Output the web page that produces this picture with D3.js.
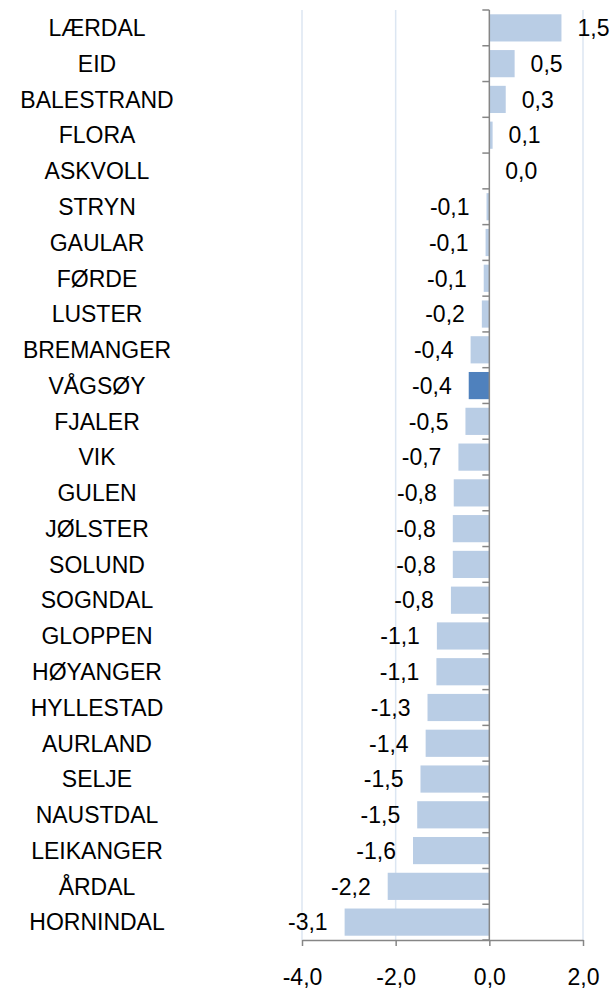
<!DOCTYPE html>
<html>
<head>
<meta charset="utf-8">
<script src="https://cdn.jsdelivr.net/npm/d3@7"></script>
<style>
  body { margin: 0; background: #fff; }
  text { font-family: "Liberation Sans", Arial, sans-serif; fill: #000; }
</style>
</head>
<body>
<svg id="chart"></svg>
<script>
const width = 616, height = 990;

// kommunar, sortert etter verdi
const kommunar = ["LÆRDAL", "EID", "BALESTRAND", "FLORA", "ASKVOLL", "STRYN", "GAULAR",
    "FØRDE", "LUSTER", "BREMANGER", "VÅGSØY", "FJALER", "VIK", "GULEN", "JØLSTER",
    "SOLUND", "SOGNDAL", "GLOPPEN", "HØYANGER", "HYLLESTAD", "AURLAND", "SELJE",
    "NAUSTDAL", "LEIKANGER", "ÅRDAL", "HORNINDAL"];
const verdiar = [1.54, 0.54, 0.35, 0.07, 0.0, -0.06, -0.08, -0.12, -0.16, -0.40, -0.44,
    -0.51, -0.66, -0.76, -0.78, -0.78, -0.82, -1.12, -1.13, -1.32, -1.36, -1.47,
    -1.54, -1.63, -2.17, -3.09];
const utheva = "VÅGSØY";
const xTicks = [-4, -2, 0, 2];

const data = kommunar.map((k, i) => ({ name: k, value: verdiar[i] }));

// norsk talformat: komma som desimalteikn, vanleg bindestrek som minus
const nb = d3.formatLocale({ decimal: ",", thousands: " ", grouping: [3], currency: ["", " kr"], minus: "-" });
const fmt = nb.format(".1f");

const margin = { top: 10, right: 33, bottom: 50, left: 302 };

const x = d3.scaleLinear()
    .domain([-4, 2])
    .range([margin.left, width - margin.right]);

const y = d3.scaleBand()
    .domain(kommunar)
    .range([margin.top, height - margin.bottom])
    .paddingInner(0.24)
    .paddingOuter(0.12);

const svg = d3.select("#chart")
    .attr("width", width)
    .attr("height", height);

const y0 = margin.top, y1 = height - margin.bottom;

//gridlines
svg.append("g")
    .selectAll("line")
    .data(xTicks.filter(d => d !== 0))
    .join("line")
    .attr("x1", d => x(d)).attr("x2", d => x(d))
    .attr("y1", y0).attr("y2", y1)
    .attr("stroke", "#dce6f2")
    .attr("stroke-width", 1.5);

//bars
svg.append("g")
    .selectAll("rect")
    .data(data)
    .join("rect")
    .attr("x", d => x(Math.min(0, d.value)))
    .attr("width", d => Math.abs(x(d.value) - x(0)))
    .attr("y", d => y(d.name))
    .attr("height", y.bandwidth())
    .attr("fill", d => d.name === utheva ? "#4f81bd" : "#b9cde5");

//bottom axis
const xAxis = svg.append("g")
    .attr("transform", `translate(0,${y1})`)
    .call(d3.axisBottom(x).tickValues(xTicks).tickFormat(fmt).tickSizeInner(6).tickSizeOuter(0).tickPadding(23));
xAxis.select(".domain").attr("stroke", "#868686").attr("stroke-width", 1.5);
xAxis.selectAll(".tick line").attr("stroke", "#868686").attr("stroke-width", 1.5);
xAxis.selectAll(".tick text")
    .style("font-size", "23px")
    .style("font-family", "'Liberation Sans', Arial, sans-serif")
    .attr("fill", "#000");

//zero axis with category ticks
const step = y.step();
svg.append("g")
    .selectAll("line")
    .data(d3.range(kommunar.length + 1))
    .join("line")
    .attr("x1", x(0) - 7).attr("x2", x(0))
    .attr("y1", i => y0 + i * step).attr("y2", i => y0 + i * step)
    .attr("stroke", "#868686")
    .attr("stroke-width", 1.5);

svg.append("line")
    .attr("x1", x(0)).attr("x2", x(0))
    .attr("y1", y0).attr("y2", y1)
    .attr("stroke", "#868686")
    .attr("stroke-width", 1.5);

//category labels
svg.append("g")
    .selectAll("text")
    .data(data)
    .join("text")
    .attr("x", 97)
    .attr("y", d => y(d.name) + y.bandwidth() / 2)
    .attr("dy", "0.36em")
    .attr("text-anchor", "middle")
    .style("font-size", "23px")
    .text(d => d.name);

//value labels
svg.append("g")
    .selectAll("text")
    .data(data)
    .join("text")
    .attr("x", d => d.value >= 0 ? x(d.value) + 16 : x(d.value) - 17)
    .attr("y", d => y(d.name) + y.bandwidth() / 2)
    .attr("dy", "0.36em")
    .attr("text-anchor", d => d.value >= 0 ? "start" : "end")
    .style("font-size", "23px")
    .text(d => fmt(d.value));
</script>
</body>
</html>
